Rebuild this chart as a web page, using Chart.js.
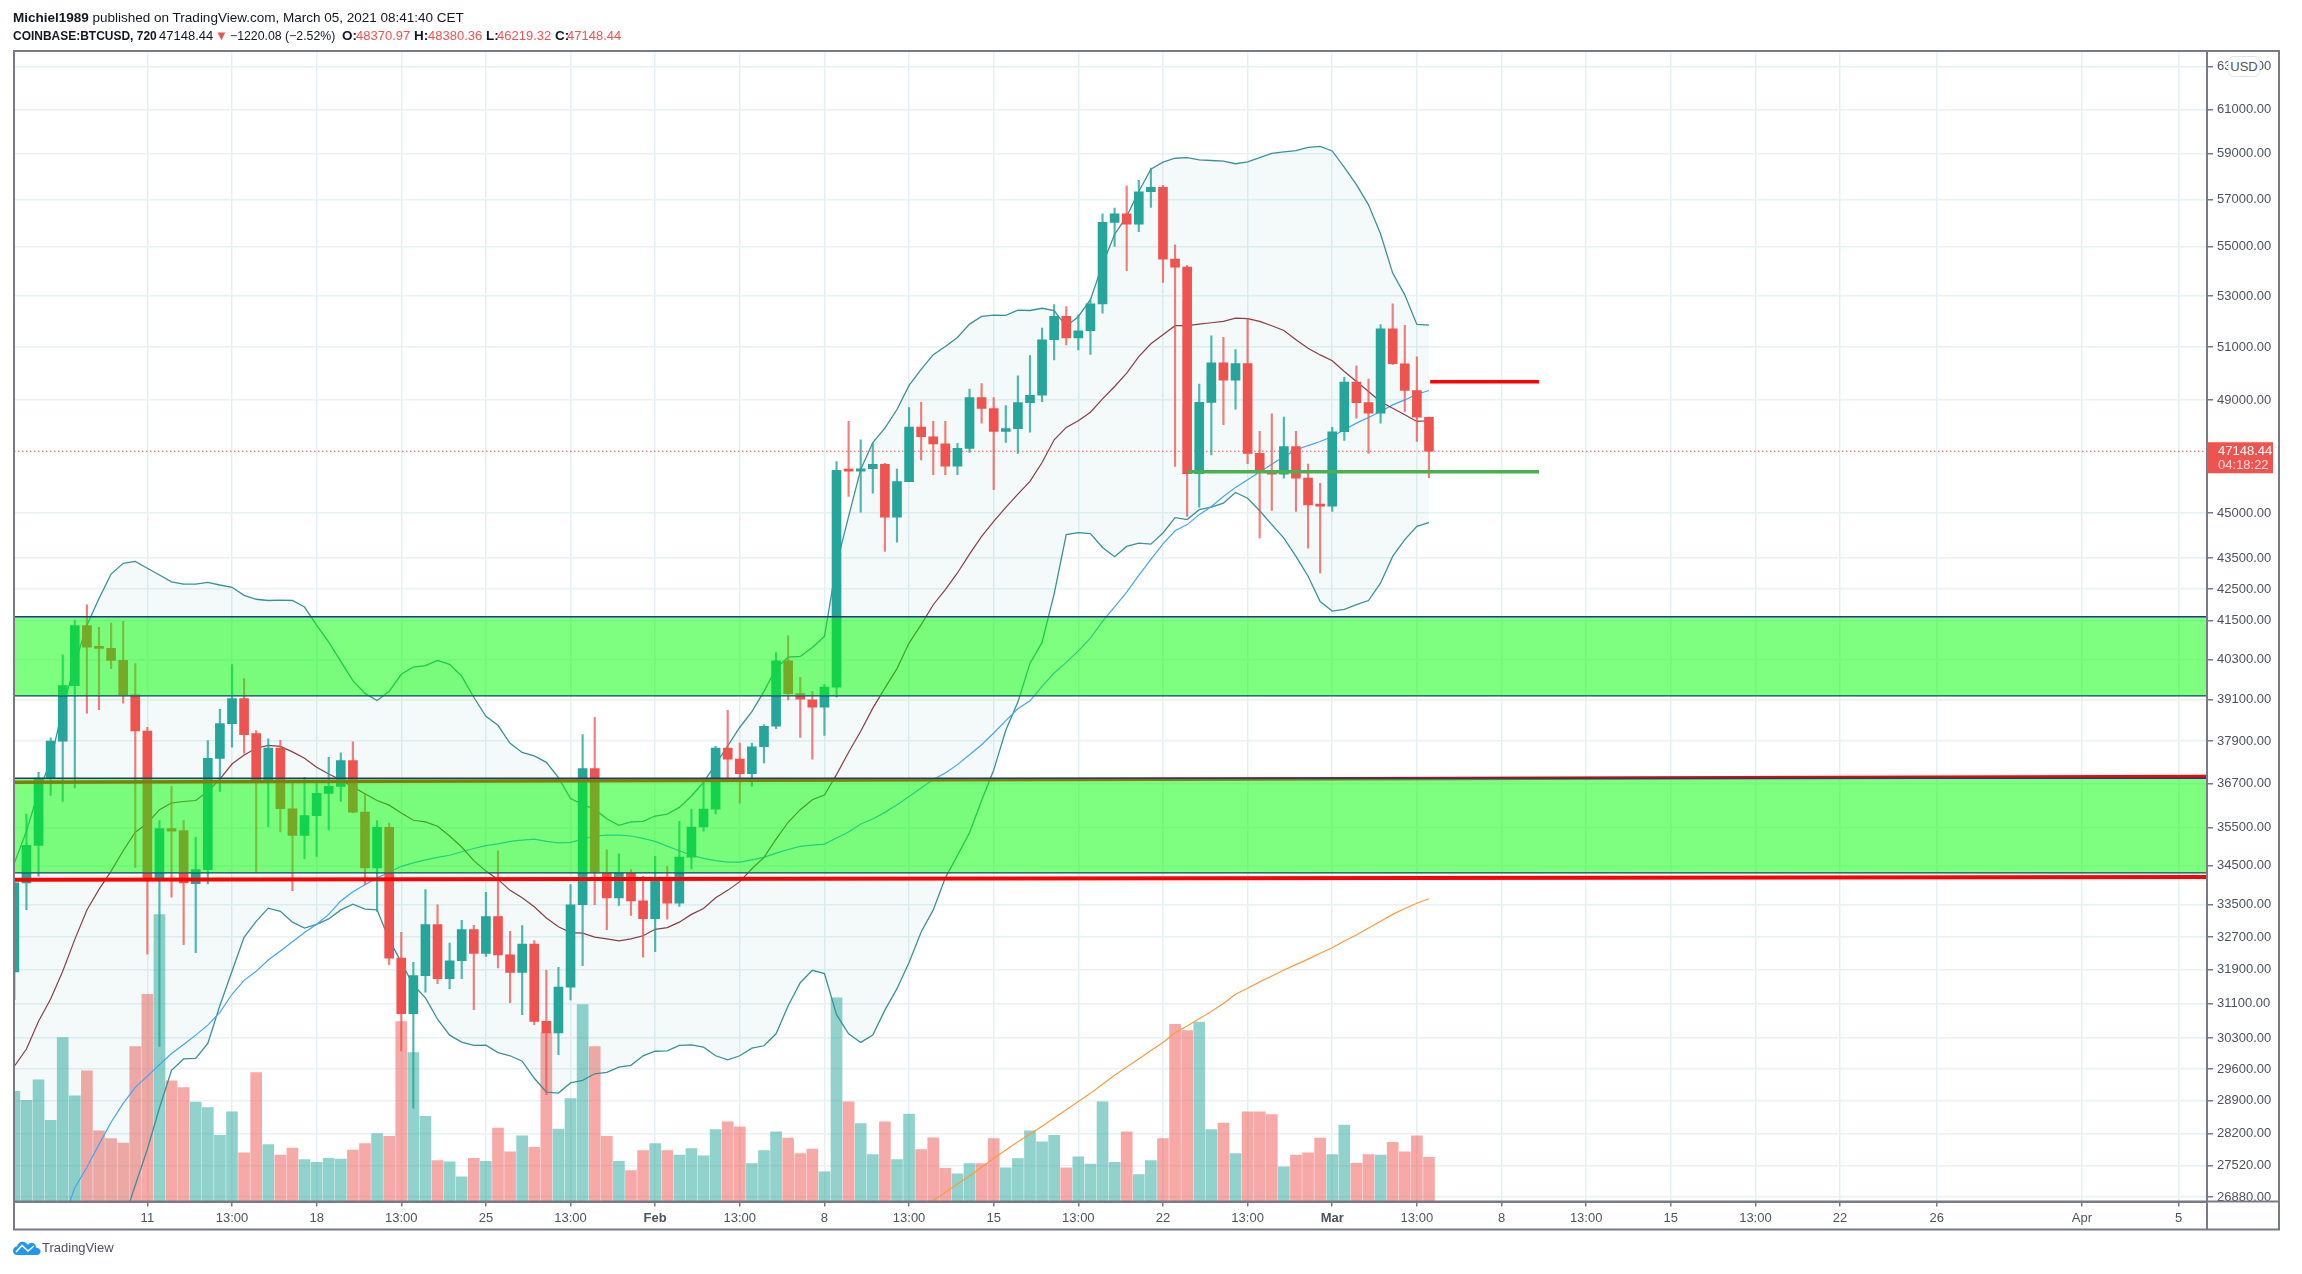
<!DOCTYPE html>
<html>
<head>
<meta charset="utf-8">
<title>COINBASE:BTCUSD, 720</title>
<script src="https://cdn.jsdelivr.net/npm/chart.js@4"></script>
<style>
  html, body { margin: 0; background: #fff; }
  body { position: relative; width: 2302px; height: 1274px; overflow: hidden; font-family: "Liberation Sans", sans-serif; color: #131722; }
  #resultado { position: absolute; left: 0; top: 0; }
  .line { position: absolute; left: 13px; font-size: 13.5px; white-space: nowrap; }
  .t { position: absolute; top: 28px; font-size: 13px; line-height: 16px; white-space: nowrap; }
  .b { font-weight: bold; font-size: 13.5px; }
  .red { color: #ef5350; }
  #usd { position: absolute; left: 2229px; top: 57px; width: 30px; height: 19px; line-height: 19px; text-align: center; font-size: 13px; color: #4c525e; background: #fff; border: 1px solid #e0e3eb; border-radius: 5px; margin: -1px; }
  #logo { position: absolute; left: 13px; top: 1240px; }
  #logotext { position: absolute; left: 42px; top: 1240px; font-size: 13px; color: #4c525e; }
</style>
</head>
<body>
<canvas id="resultado" width="2302" height="1274"></canvas>
<div class="line" style="top:10px"><b>Michiel1989</b> published on TradingView.com, March 05, 2021 08:41:40 CET</div>
<div class="t b" style="left:13px;transform:scaleX(0.887);transform-origin:left">COINBASE:BTCUSD, 720</div>
<div class="t" style="left:159px">47148.44</div>
<div class="t red" style="left:215px">▼</div>
<div class="t" style="left:230px;font-size:12.3px">−1220.08 (−2.52%)</div>
<div class="t b" style="left:342px">O:</div><div class="t red" style="left:356px">48370.97</div>
<div class="t b" style="left:414px">H:</div><div class="t red" style="left:428px">48380.36</div>
<div class="t b" style="left:486px">L:</div><div class="t red" style="left:497px">46219.32</div>
<div class="t b" style="left:555px">C:</div><div class="t red" style="left:567px">47148.44</div>
<div id="usd">USD</div>
<svg id="logo" width="28" height="15" viewBox="0 0 28 15"><path d="M0 11 C0 8 2 6.5 4 6.5 C5 3 8 1 11 2 C13 2.5 14 4 15 5 C16 3 19 2 21 3.5 C23 5 23 6.5 23 7.5 C26 8 28 10 27.5 12 C27 14 25.5 15 24 15 L4 15 C2 15 0 13.5 0 11 Z" fill="#2196f3"/><path d="M3 12 L9 5.5 L15 11 L21 6" fill="none" stroke="#fff" stroke-width="1.6"/></svg>
<div id="logotext">TradingView</div>
<script>
// bars every 12h, index 0 = Jan 11 01:00, first bar on the chart is index -11
const firstBar = -11

const ohlc = [
[31850,34080,31190,34060],[34060,35870,33380,35035],[35035,37020,34230,36860],[36860,37990,36380,37900],
[37900,40445,36213,39516],[39516,41510,36583,41345],[41345,42000,38708,40678],[40678,41290,38806,40640],
[40640,41426,40026,40274],[40274,41479,38997,39247],[39247,40175,34461,38189],[38189,38297,32277,34170],
[34170,35696,30110,35482],[35482,36630,33695,35410],[35428,35696,32508,34056],[34040,35249,32318,34402],
[34402,37915,34030,37408],[37408,38815,36491,38402],[38402,40146,37727,39136],[39136,39726,37556,38085],
[38115,38200,34314,36769],[36769,37962,35525,37698],[37698,37921,35390,36017],[36017,36769,33860,35302],
[35302,36880,34686,35830],[35830,36722,34745,36436],[36436,37436,35444,36630],[36630,37567,36213,37344],
[37344,37880,35900,35926],[35926,36427,34015,34443],[34443,35696,33336,35517],[35517,35632,32024,32182],
[32182,32814,30011,30863],[30863,32079,28745,31761],[31761,33886,31368,33005],[33005,33502,31569,31689],
[31689,32548,31450,32120],[32120,33112,31689,32881],[32881,32988,30955,32294],[32294,33816,32222,33204],
[33204,34893,31943,32263],[32263,32838,31123,31840],[31840,32980,30840,32523],[32523,32608,30610,30686],
[30686,31888,29036,30421],[30421,31959,29922,31488],[31488,34015,31187,33502],[33502,38085,32000,37122],
[37122,38584,33502,34314],[34314,34920,32881,33677],[33677,34815,33485,34314],[34314,34402,33236,33602],
[33602,34229,32206,33154],[33154,34745,32342,34203],[34203,34487,33144,33542],[33542,35677,33460,34727],
[34727,36007,34417,35525],[35525,36861,35410,36007],[36007,37747,35873,37698],[37698,38786,36861,37389],
[37389,37842,36167,36983],[36983,37842,36630,37739],[37739,38373,37278,38325],[38325,40514,38258,40265],
[40265,41031,39097,39277],[39277,39765,38007,39115],[39097,39345,37389,38881],[38881,39546,38064,39474],
[39474,46786,39175,46473],[46473,48219,45569,46449],[46449,47557,45036,46532],[46532,47434,45684,46682],
[46682,46720,43718,44868],[44868,46518,44030,46080],[46080,48726,46080,48013],[48013,48918,46845,47665],
[47665,48219,46323,47413],[47413,48219,46323,46623],[46623,47434,46323,47253],[47253,49405,47110,49093],
[49093,49612,48158,48690],[48690,49093,45802,47858],[47858,48798,47460,47956],[47956,49909,47075,48907],
[48907,50672,47833,49180],[49180,51732,48943,51279],[51279,52657,50510,52188],[52188,52579,51084,51348],
[51348,52255,50888,51630],[51630,52843,50720,52684],[52684,56388,52317,56022],[56022,56623,55012,56388],
[56388,57590,54019,55950],[55950,57822,55633,57328],[57328,58359,56653,57516],[57516,57603,53544,54490],
[54490,55084,46612,54165],[54165,54234,44892,46358],[46358,49600,45204,48918],[48918,51435,47019,50397],
[50397,51370,48100,49743],[49743,50900,48664,50371],[50371,52099,46706,47075],[47075,47858,44164,46438],
[46438,48498,45093,46344],[46344,48375,46205,47315],[47315,47858,45060,46205],[46205,46692,43829,45284],
[45284,46021,43017,45237],[45237,48003,45060,47847],[47847,49845,47532,49668],[49668,50285,48339,48907],
[48907,49781,47075,48520],[48520,51865,48158,51708],[51708,52684,50325,50360],[50360,51837,48581,49356],
[49356,50623,47496,48371],[48370.97,48380.36,46219.32,47148.44]
]

const volume = [
4840,4440,5340,3560,7200,4640,5740,3100,2760,2560,6800,9100,12600,5300,5000,4360,4120,2900,3940,2140,
5660,2500,2040,2340,1840,1720,1900,1860,2260,2540,2980,2860,7900,6540,3740,1800,1740,1080,1900,1760,
3220,2180,2880,2380,7400,3180,4520,8640,6800,2860,1760,1360,2240,2540,2240,2040,2320,2000,3160,3500,
3280,1660,2240,3060,2780,2100,2300,1300,8940,4380,3420,2060,3500,1840,3840,2280,2800,1460,1220,1660,
1660,2760,1480,1880,3100,2620,2900,1480,1960,1640,4380,1720,3060,1180,1800,2760,7780,7500,7880,3160,
3440,2100,3940,3940,3820,1520,2040,2140,2780,2060,3360,1680,2060,2040,2600,2180,2880,1940
]

const bbUpper = [
34572,35410,36491,37325,38853,40155,41360,42199,42981,43330,43395,43169,42952,42732,42658,42658,42716,42629,42555,42296,
42173,42134,42144,42134,41927,41360,40837,40244,39663,39286,39076,39346,39855,40074,40116,40277,40155,39801,39172,38613,
38353,37834,37575,37478,37297,36869,36296,36133,35999,35747,35570,35661,35677,35819,35870,36052,36363,36741,37250,37762,
38297,38749,39346,40035,40373,40394,40669,41011,43298,44892,46508,47460,47977,48654,49544,50146,50709,51017,51369,51888,
52188,52239,52227,52434,52423,52512,52423,51798,52188,52855,54275,55520,56274,57342,58315,58621,58795,58826,58726,58695,
58664,58551,58638,58826,59014,59075,59132,59280,59325,59119,58389,57634,56766,55533,53922,53046,51876,51849
]
const bbLower = [
24000,23500,23000,22800,22600,22600,23000,23800,25000,26391,27120,27868,28745,29574,29829,29840,30179,31054,31864,32689,
33087,33418,33336,33067,32921,33013,33147,33373,33519,33395,33373,32640,32079,31536,31232,30734,30368,30211,30133,30138,
29973,29900,29778,29397,29094,29072,29294,29352,29497,29530,29647,29685,29900,30002,30011,30133,30147,30094,29900,29809,
29900,30073,30126,30400,31049,31591,31888,31809,30840,30400,30202,30368,30946,31450,32079,32824,33373,34188,34771,35370,
36241,37080,38211,39029,40184,40824,42345,44278,44345,44312,43852,43547,43885,43996,43962,44332,44849,44781,45117,45204,
45338,45708,45510,45083,44613,44164,43556,42910,42102,41800,41853,42000,42134,42694,43556,44110,44556,44680
]
const bbBasis = [
29667,30053,30686,31208,31864,32640,33373,33892,34363,34893,35383,35624,35991,36173,36213,36241,36491,36830,37250,37503,
37695,37776,37747,37592,37414,37158,36969,36805,36614,36427,36241,36114,35900,35704,35661,35543,35284,34992,34634,34363,
34149,33868,33682,33452,33169,32953,32808,32796,32696,32651,32606,32651,32729,32889,32930,33067,33261,33410,33682,33868,
34091,34423,34719,35203,35651,35991,36260,36389,36955,37584,38180,38853,39444,40026,40803,41375,42000,42480,43017,43631,
44221,44724,45194,45649,46091,46751,47557,48003,48245,48556,49044,49506,50007,50634,51123,51474,51825,51825,51888,51942,
51993,52122,52099,51993,51825,51642,51279,50951,50698,50473,50070,49694,49319,48943,48701,48462,48219,48245
]
const maBlue = [
null,null,null,null,26391,27070,27490,27969,28439,28845,29198,29446,29698,29951,30156,30368,30599,30893,31318,31648,
31864,32136,32354,32580,32808,33013,33261,33600,33834,34010,34188,34332,34487,34575,34657,34719,34776,34869,34954,35027,
35075,35142,35175,35199,35142,35102,35115,35199,35284,35308,35308,35284,35223,35142,35016,34893,34776,34694,34634,34598,
34598,34657,34719,34833,34927,35008,35043,35069,35230,35390,35605,35739,35918,36125,36352,36583,36819,37000,37233,37511,
37796,38131,38489,38835,39067,39495,39894,40214,40566,40958,41479,41931,42403,42942,43460,43970,44405,44613,44949,45227,
45569,45882,46150,46414,46692,46960,47195,47351,47496,47677,47919,48158,48364,48581,48824,49007,49217,49356
]
// orange average only comes into view at the end, index 64 onwards
const maOrange = [
26648,26812,26976,27145,27313,27490,27675,27849,28024,28189,28354,28531,28706,28888,29065,29264,29465,29647,29829,30018,
30202,30421,30578,30746,30916,31100,31318,31459,31612,31753,31895,32026,32158,32299,32434,32602,32749,32921,33090,33261,
33410,33542,33656
]

const xMin = -11.03, xMax = 170.35
const yMin = 26791, yMax = 63670
const lastPrice = 47148.44

const priceTicks = [63000,61000,59000,57000,55000,53000,51000,49000,45000,43500,42500,41500,40300,39100,37900,36700,35500,34500,33500,32700,31900,31100,30300,29600,28900,28200,27520,26880]
const timeTicks = {0:'11',7:'13:00',14:'18',21:'13:00',28:'25',35:'13:00',42:'Feb',49:'13:00',56:'8',63:'13:00',70:'15',77:'13:00',84:'22',91:'13:00',98:'Mar',105:'13:00',112:'8',119:'13:00',126:'15',133:'13:00',140:'22',148:'26',160:'Apr',168:'5'}

const up = '#26a69a', down = '#ef5350'
const isUp = d => d[3] >= d[0]
const series = (arr, start) => arr.map((v, k) => ({x: k + start, y: v}))
const hline = (x0, y0, x1, y1) => [{x: x0, y: y0}, {x: x1, y: y1}]
const line = (data, color, width, order, extra) => Object.assign({type: 'line', data, borderColor: color, borderWidth: width, pointRadius: 0, tension: 0, fill: false, order}, extra)

const datasets = [
  {type: 'bar', yAxisID: 'yVol', order: 12, barThickness: 11, grouped: false,
    data: volume.map((v, k) => ({x: k + firstBar, y: v})),
    backgroundColor: ohlc.map(d => isUp(d) ? 'rgba(38,166,154,0.5)' : 'rgba(239,83,80,0.5)')},
  line(series(bbLower, firstBar), '#3a9296', 1.3, 10),
  line(series(bbUpper, firstBar), '#3a9296', 1.3, 10, {fill: 1, backgroundColor: 'rgba(38,166,154,0.055)'}),
  line(series(bbBasis, firstBar), '#8a3f45', 1.2, 9),
  line(series(maBlue, firstBar), '#42a5f5', 1.2, 9),
  line(series(maOrange, 64), '#ff9a3c', 1.2, 9),
  line(hline(xMin, lastPrice, xMax, lastPrice), '#ef5350', 1, 8, {borderDash: [1.5, 2.5]}),
  {type: 'bar', order: 6, barThickness: 1.5, grouped: false,
    data: ohlc.map((d, k) => ({x: k + firstBar, y: [d[2], d[1]]})),
    backgroundColor: ohlc.map(d => isUp(d) ? 'rgba(38,166,154,0.8)' : 'rgba(239,83,80,0.75)')},
  {type: 'bar', order: 5, barThickness: 9, grouped: false, minBarLength: 2,
    data: ohlc.map((d, k) => ({x: k + firstBar, y: [d[0], d[3]]})),
    backgroundColor: ohlc.map(d => isUp(d) ? up : down)},
  // long red levels, the zones go over them
  line(hline(xMin, 36741, xMax, 36900), '#ff0000', 3.5, 4),
  line(hline(xMin, 34139, xMax, 34208), '#ff0000', 4, 1),
  // green zones
  line(hline(xMin, 41625, xMax, 41625), '#23358f', 1.5, 3, {fill: '+1', backgroundColor: 'rgba(0,255,0,0.5)'}),
  line(hline(xMin, 39217, xMax, 39217), '#23358f', 1.5, 3),
  line(hline(xMin, 36850, xMax, 36850), '#23358f', 1.5, 2, {fill: '+1', backgroundColor: 'rgba(0,255,0,0.5)'}),
  line(hline(xMin, 34319, xMax, 34319), '#23358f', 1.5, 2),
  // short levels after the last bars
  line(hline(86.05, 46428, 115.1, 46428), '#4caf50', 3.5, 1),
  line(hline(106.1, 49683, 115.1, 49683), '#ff0000', 3.5, 1)
]

const frame = {
  id: 'frame',
  afterDraw(chart) {
    const ctx = chart.ctx, a = chart.chartArea, yw = chart.scales.y.width, xh = chart.scales.x.height
    ctx.save()
    ctx.strokeStyle = '#787b86'
    ctx.lineWidth = 2
    ctx.strokeRect(a.left, a.top - 1.5, a.right + yw - a.left, a.bottom + xh - a.top + 1.5)
    ctx.beginPath()
    ctx.moveTo(a.left, a.bottom)
    ctx.lineTo(a.right + yw, a.bottom)
    ctx.moveTo(a.right, a.top - 1.5)
    ctx.lineTo(a.right, a.bottom + xh)
    ctx.stroke()
    // last price tag
    const py = chart.scales.y.getPixelForValue(lastPrice)
    ctx.fillStyle = '#ef5350'
    ctx.fillRect(a.right, py - 9, 66, 31)
    ctx.fillStyle = '#fff'
    ctx.font = '13px "Liberation Sans"'
    ctx.textBaseline = 'middle'
    ctx.fillText('47148.44', a.right + 11, py + 0.5)
    ctx.fillStyle = '#ffdcdb'
    ctx.fillText('04:18:22', a.right + 11, py + 14.5)
    ctx.restore()
  }
}

const config = {
  type: 'bar',
  data: {datasets},
  options: {
    responsive: false,
    animation: false,
    layout: {padding: {left: 14, top: 52.5, right: 23, bottom: 44.5}},
    plugins: {legend: {display: false}, tooltip: {enabled: false}, title: {display: false}},
    scales: {
      x: {
        type: 'linear',
        offset: false,
        min: xMin,
        max: xMax,
        afterBuildTicks: s => { s.ticks = Object.keys(timeTicks).map(k => ({value: +k})) },
        afterFit: s => { s.height = 28 },
        grid: {offset: false, color: '#e6eff3', lineWidth: 1.5, tickColor: '#787b86', tickLength: 5},
        border: {color: '#787b86', width: 2},
        ticks: {
          autoSkip: false,
          maxRotation: 0,
          padding: 4,
          color: '#4c525e',
          font: c => ({family: 'Liberation Sans', size: 13, weight: (c.tick && (c.tick.value === 42 || c.tick.value === 98)) ? 'bold' : 'normal'}),
          callback: v => timeTicks[v]
        }
      },
      y: {
        type: 'logarithmic',
        position: 'right',
        min: yMin,
        max: yMax,
        afterBuildTicks: s => { s.ticks = priceTicks.map(v => ({value: v})) },
        afterFit: s => { s.width = 72 },
        grid: {color: '#e8f1f4', lineWidth: 1.5, tickColor: '#787b86', tickLength: 6},
        border: {color: '#787b86', width: 2},
        ticks: {
          autoSkip: false,
          padding: 4,
          color: '#4c525e',
          font: {family: 'Liberation Sans', size: 13},
          callback: v => v.toFixed(2)
        }
      },
      yVol: {type: 'linear', display: false, min: 0, max: 50441, beginAtZero: true}
    }
  },
  plugins: [frame]
}

let myChart = new Chart(document.getElementById('resultado'), config)
</script>
</body>
</html>
